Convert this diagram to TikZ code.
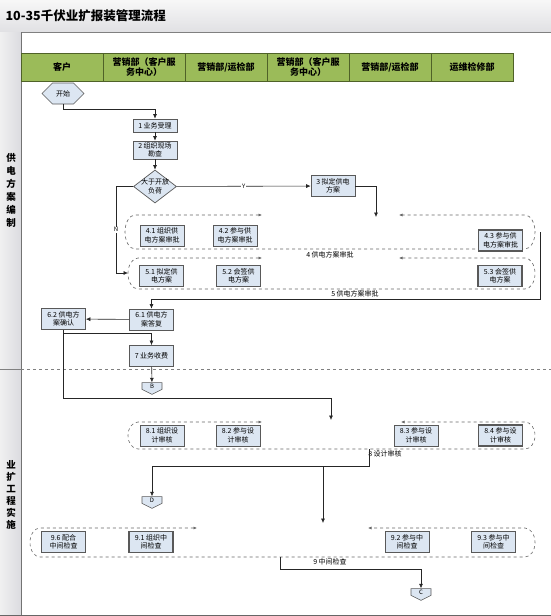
\documentclass[tikz,border=0pt]{standalone}
\usepackage{fontspec}
\setmainfont{Noto Sans CJK SC}
\usetikzlibrary{shapes.geometric,shapes.symbols,arrows.meta}
\definecolor{boxblue}{HTML}{DCE6F2}
\definecolor{headgreen}{HTML}{9BBB59}
\definecolor{headline}{HTML}{4F6228}
\begin{document}
\begin{tikzpicture}[x=1pt,y=-1pt,
    box/.style={draw=black!65,fill=boxblue,line width=.7pt,minimum width=44pt,minimum height=21pt,inner sep=1pt,align=center,font=\fontsize{7}{8.5}\selectfont},
    keybox/.style={box,line width=1.2pt},
    head/.style={draw=headline,fill=headgreen,line width=.8pt,minimum width=82pt,minimum height=28pt,inner sep=0pt,align=center,font=\fontsize{9}{10.5}\selectfont\bfseries},
    pageref/.style={draw=black!65,fill=boxblue,line width=.6pt,signal,signal to=south,signal pointer angle=127,minimum width=20pt,minimum height=8pt,inner sep=.5pt,font=\fontsize{6}{6}\selectfont},
    arr/.style={draw=black!85,line width=.6pt,-{Latex[length=4.5pt,width=4pt]}},
    grp/.style={draw=black!60,dashed,line width=.6pt,{Latex[length=3.5pt,width=3pt]}-{Latex[length=3.5pt,width=3pt]}},
    lbl/.style={font=\fontsize{7}{7}\selectfont,inner sep=1pt}]
  \useasboundingbox(0,0)rectangle(551,616);
  \fill[white](0,0)rectangle(551,616);
  \shade[top color=black!3,bottom color=blue!10!black!12](0,0)rectangle(551,32);
  \draw[black!50](0,32)--(551,32);
  \node[anchor=west,font=\fontsize{12.5}{14}\selectfont\bfseries] (title) at (2,16) {10-35千伏业扩报装管理流程};
  \shade[left color=blue!4!black!6,right color=blue!12!black!14](0,32)rectangle(21,616);
  \draw[black!55](21,32)--(21,616);
  \node[align=center,font=\fontsize{9.5}{13}\selectfont\bfseries] (phase1) at (11,190) {供\\电\\方\\案\\编\\制};
  \node[align=center,font=\fontsize{9.5}{12}\selectfont\bfseries] (phase2) at (11,495) {业\\扩\\工\\程\\实\\施};
  \draw[black!50](0,369)--(21,369);
  \draw[black!50,dashed](21,369)--(551,369);
  \draw[black!60,line width=.8pt](0,615)--(551,615);
  \foreach \i/\t in {0/客户,1/{营销部（客户服\\务中心）},2/{营销部/运检部},3/{营销部（客户服\\务中心）},4/{营销部/运检部},5/运维检修部}{
    \node[head] (h\i) at (62+82*\i,67) {\t};
  }
  \foreach \t/\b/\l/\r/\gl/\gr in {215/249/125/535/262/399,258/289/128/535/262/399,422/449/128/535/262/401,528/557/30/535/197/368}{
    \draw[grp](\gl,\t)--(\l+10,\t)arc[start angle=270,end angle=90,x radius=10,y radius={(\b-\t)/2}]--(\r-10,\b)arc[start angle=90,end angle=-90,x radius=10,y radius={(\b-\t)/2}]--(\gr,\t);
  }
  \node[draw=black!65,fill=boxblue,line width=.6pt,signal,signal to=east and west,minimum width=42pt,minimum height=21pt,inner sep=1pt,font=\fontsize{7}{7}\selectfont] (start) at (63,93.5) {开始};
  \node[box,minimum height=13pt] (n1) at (155,125.5) {1 业务受理};
  \node[box,minimum height=18pt] (n2) at (155,150) {2 组织现场\\勘查};
  \node[draw=black!65,fill=boxblue,line width=.7pt,diamond,aspect=1.3,minimum width=43pt,minimum height=33pt,inner sep=-2pt,align=center,font=\fontsize{7}{8.5}\selectfont] (dec) at (155,186.5) {大于开放\\负荷};
  \node[box] (n3) at (333,186) {3 拟定供电\\方案};
  \node[box] (n41) at (162,235.5) {4.1 组织供\\电方案审批};
  \node[box] (n42) at (235,235.5) {4.2 参与供\\电方案审批};
  \node[keybox] (n43) at (500.5,240.5) {4.3 参与供\\电方案审批};
  \node[box] (n51) at (161.5,276) {5.1 拟定供\\电方案};
  \node[box] (n52) at (238.5,276) {5.2 会签供\\电方案};
  \node[keybox] (n53) at (500,276) {5.3 会签供\\电方案};
  \node[box] (n61) at (151.5,319.5) {6.1 供电方\\案答复};
  \node[box] (n62) at (63.5,319) {6.2 供电方\\案确认};
  \node[box] (n7) at (151.5,356) {7 业务收费};
  \node[pageref] (offB) at (152,386) {B};
  \node[box] (n81) at (162,435.5) {8.1 组织设\\计审核};
  \node[box] (n82) at (238,435.5) {8.2 参与设\\计审核};
  \node[box] (n83) at (416,435.5) {8.3 参与设\\计审核};
  \node[keybox] (n84) at (500.5,435.5) {8.4 参与设\\计审核};
  \node[pageref] (offD) at (152,500) {D};
  \node[keybox] (n96) at (63.5,542) {9.6 配合\\中间检查};
  \node[keybox] (n91) at (151,542) {9.1 组织中\\间检查};
  \node[box] (n92) at (407,542) {9.2 参与中\\间检查};
  \node[box] (n93) at (493.5,542) {9.3 参与中\\间检查};
  \node[pageref] (offC) at (421,592) {C};
  \node[lbl] (g4) at (330,255) {4 供电方案审批};
  \node[lbl] (g5) at (355,294) {5 供电方案审批};
  \node[lbl] (g8) at (385,454) {8 设计审核};
  \node[lbl] (g9) at (330,562) {9 中间检查};
  \coordinate (c4in) at (376,217);
  \coordinate (c5in) at (128,273);
  \coordinate (c45out) at (540,232);
  \coordinate (c8in) at (331,420);
  \coordinate (c8out) at (369,449);
  \coordinate (c8split) at (323,466);
  \coordinate (c9in) at (323,523);
  \coordinate (c9out) at (280,557);
  \draw[arr](start.south)--++(0,4.5)-|(n1.north);
  \draw[arr](n1)--(n2);
  \draw[arr](n2)--(dec);
  \draw[arr](dec)--node[lbl,fill=white,font=\fontsize{6}{6}\selectfont]{Y}(n3);
  \draw[arr](n3.east)-|(c4in);
  \draw[arr](dec.west)--++(-17,0)|-node[lbl,pos=.25,fill=white,font=\fontsize{6}{6}\selectfont]{N}(c5in);
  \draw[arr](c45out)--(540,299)-|(n61.north);
  \draw[arr](n61)--(n62);
  \draw[arr](n62.south)|-(151.5,333)--(n7.north);
  \draw[arr](n62.south)--(63.5,398)-|(c8in);
  \draw[arr](n7)--(offB);
  \draw[arr](c8out)--(369,466)-|(offD.north);
  \draw[arr](c8split)--(c9in);
  \draw[arr](c9out)--(280,569)-|(offC.north);
\end{tikzpicture}
\end{document}
